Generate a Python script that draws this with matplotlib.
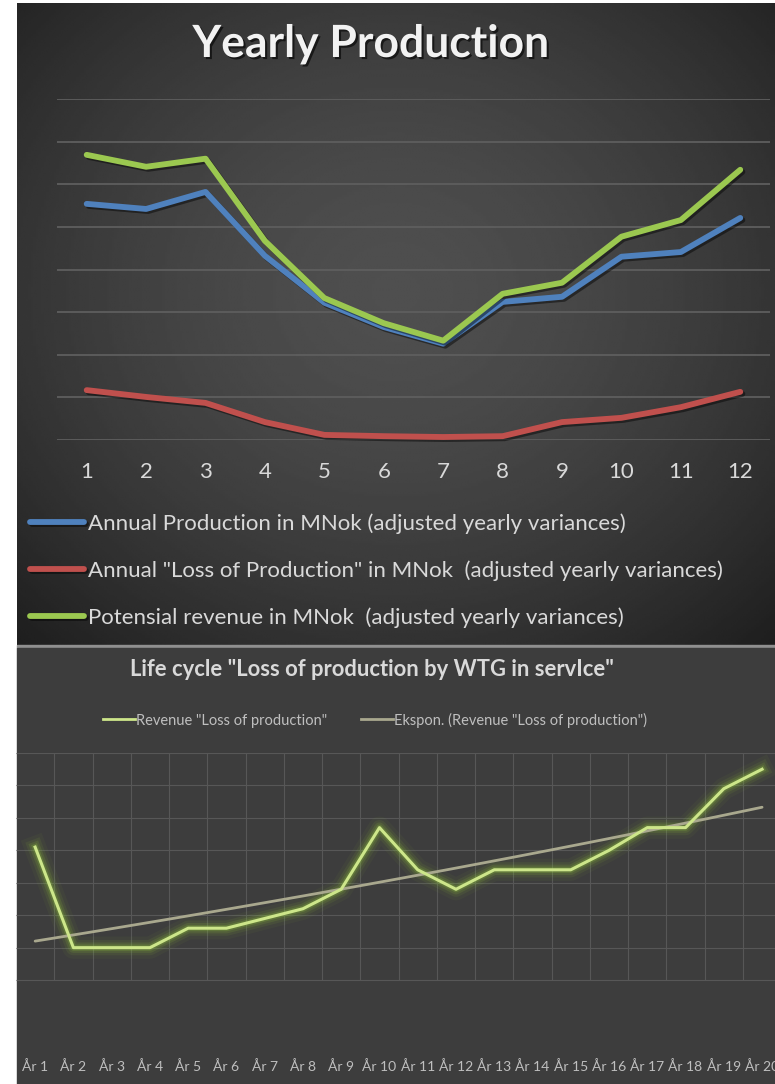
import numpy as np
import matplotlib
matplotlib.use("Agg")
import matplotlib.pyplot as plt
import matplotlib.patheffects as pe
from matplotlib.patches import Rectangle
from matplotlib.lines import Line2D

W, H = 775, 1084

def fx(px):
    return px / W

def fy(py):
    return 1 - py / H

# yearly production, MNok per month
months = [str(m) for m in range(1, 13)]
production = [5.54, 5.42, 5.82, 4.32, 3.22, 2.65, 2.26, 3.24, 3.36, 4.30, 4.41, 5.21]
loss = [1.17, 1.01, 0.87, 0.42, 0.12, 0.09, 0.07, 0.09, 0.42, 0.52, 0.77, 1.13]
potential = [6.69, 6.41, 6.60, 4.67, 3.33, 2.74, 2.33, 3.43, 3.69, 4.77, 5.16, 6.34]

# life cycle, lost revenue per year
years = ["År %d" % i for i in range(1, 21)]
lost_revenue = [161, 130, 130, 130, 136, 136, 139, 142, 148, 167,
                154, 148, 154, 154, 154, 160, 167, 167, 179, 185]

plt.rcParams["font.family"] = "Lato"

fig = plt.figure(figsize=(W / 100, H / 100), dpi=100, facecolor="white")

# dark vignette behind the top chart
bg = fig.add_axes([fx(17), fy(645), fx(775) - fx(17), fy(3) - fy(645)])
bg.set_zorder(-5)
yy, xx = np.mgrid[0:1:300j, 0:1:300j]
r = np.sqrt(((xx - 0.5) / 0.6) ** 2 + ((yy - 0.45) / 0.62) ** 2)
shade = 0.31 - 0.14 * np.clip(r, 0, 1.4) ** 1.6
bg.imshow(shade, cmap="gray", vmin=0, vmax=1, aspect="auto", interpolation="bilinear")
bg.axis("off")

fig.add_artist(Rectangle((fx(17), fy(648)), 1 - fx(17), fy(645) - fy(648),
                         color="#8f8f8f", transform=fig.transFigure, zorder=-4))
fig.add_artist(Rectangle((fx(17), 0), 1 - fx(17), fy(648),
                         color="#3d3d3d", transform=fig.transFigure, zorder=-4))

# ---- Yearly Production ----
fig.text(fx(371), fy(44), "Yearly Production", ha="center", va="center",
         fontsize=32, weight="bold", color="#f2f2f2",
         path_effects=[pe.withSimplePatchShadow(offset=(1.5, -1.5), shadow_rgbFace="black", alpha=0.6)])

ax1 = fig.add_axes([fx(57), fy(440), fx(770) - fx(57), fy(99) - fy(440)])
ax1.patch.set_alpha(0)
x = np.arange(12)
ax1.set_xlim(-0.5, 11.5)
ax1.set_ylim(0, 8)
ax1.set_yticks(range(9))
ax1.grid(axis="y", color="#5e5e5e", lw=1.3)
ax1.set_axisbelow(True)
ax1.set_xticks(x, months)
ax1.tick_params(axis="x", length=0, pad=16, labelsize=16, labelcolor="#d9d9d9")
ax1.tick_params(axis="y", left=False, labelleft=False)
for s in ax1.spines.values():
    s.set_visible(False)

shadow = [pe.SimpleLineShadow(offset=(1.5, -1.5), shadow_color="black", alpha=0.45), pe.Normal()]
style = dict(lw=4.2, solid_joinstyle="round", solid_capstyle="round", path_effects=shadow, clip_on=False)
ax1.plot(x, production, color="#4f81bd", label="Annual Production in MNok (adjusted yearly variances)", **style)
ax1.plot(x, loss, color="#c0504d", label='Annual "Loss of Production" in MNok  (adjusted yearly variances)', **style)
ax1.plot(x, potential, color="#9bc850", label="Potensial revenue in MNok  (adjusted yearly variances)", **style)

fig.legend(*ax1.get_legend_handles_labels(), loc="upper left",
           bbox_to_anchor=(fx(30), fy(513)), frameon=False, fontsize=16,
           labelcolor="#d9d9d9", handlelength=2.43, handletextpad=0.2,
           labelspacing=1.2, borderpad=0, borderaxespad=0)

# ---- Life cycle ----
fig.text(fx(372), fy(670), 'Life cycle "Loss of production by WTG in servIce"',
         ha="center", va="center", fontsize=15.8, weight="bold", color="#d9d9d9")

ax2 = fig.add_axes([fx(16), fy(1045), 1 - fx(16), fy(753) - fy(1045)])
ax2.patch.set_alpha(0)
xs = np.arange(1, 21)
ax2.set_xlim(0.5, 0.5 + (W - 16) / 38.26)
ax2.set_ylim(100, 190)
ax2.hlines(range(120, 191, 10), 0.5, 21, color="#575757", lw=0.8, zorder=0)
ax2.vlines(np.arange(1.5, 20.5, 1), 120, 190, color="#575757", lw=0.8, zorder=0)
ax2.set_xticks(xs, years)
ax2.tick_params(axis="x", length=0, pad=11, labelsize=10, labelcolor="#bfbfbf")
ax2.tick_params(axis="y", left=False, labelleft=False)
for s in ax2.spines.values():
    s.set_visible(False)

# soft glow under the series line
for w, a in [(16, 0.05), (11, 0.09), (7.5, 0.14), (4.5, 0.24)]:
    ax2.plot(xs, lost_revenue, color="#8fc43a", lw=w, alpha=a, solid_joinstyle="round", clip_on=False)

# exponential trendline
b, a = np.polyfit(xs, np.log(lost_revenue), 1)
xt = np.linspace(1, 20, 100)
ax2.plot(xt, np.exp(a + b * xt), color="#a9a88e", lw=2, solid_capstyle="round")
ax2.plot(xs, lost_revenue, color="#cde68a", lw=2.2, solid_joinstyle="round", clip_on=False)

handles = [Line2D([], [], color="#cde68a", lw=2), Line2D([], [], color="#a9a88e", lw=2)]
fig.legend(handles, ['Revenue "Loss of production"', 'Ekspon. (Revenue "Loss of production")'],
           loc="center", bbox_to_anchor=(fx(375), fy(720)), ncol=2, frameon=False,
           fontsize=10.5, labelcolor="#bfbfbf", handlelength=2.2, handletextpad=0.1,
           columnspacing=2.3)

fig.savefig("out.png", dpi=100, facecolor="white")
